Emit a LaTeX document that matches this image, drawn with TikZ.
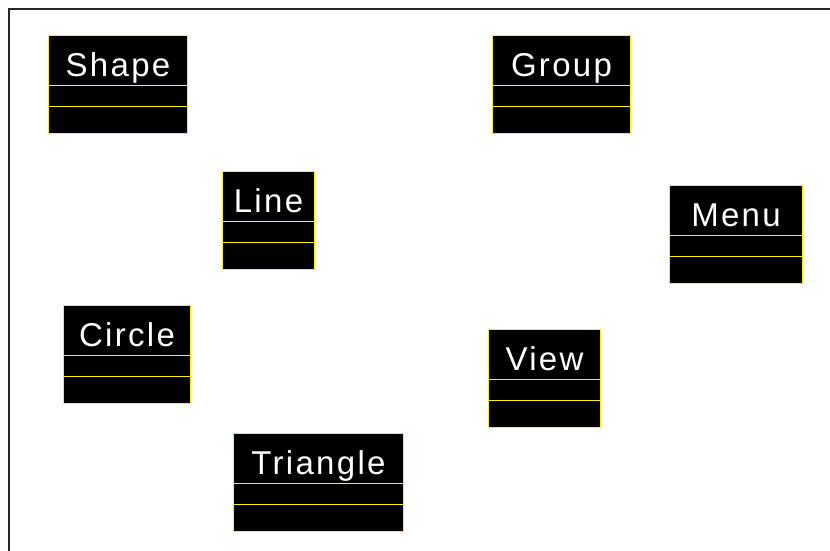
\documentclass[tikz,border=0pt]{standalone}
\usepackage{fontspec}
\newfontfamily\classfont[LetterSpace=7]{Liberation Sans}
\usetikzlibrary{shapes.multipart}
\tikzset{
  classbox/.style={rectangle split, rectangle split parts=3, draw=yellow, fill=black,
                   line width=1pt, inner sep=0pt, text=white, anchor=north west,
                   minimum width=#1, font=\classfont\fontsize{33}{33}\selectfont},
  frameline/.style={draw=black!85, line width=1.5pt},
}
\begin{document}
\begin{tikzpicture}[x=1pt, y=-1pt]
  \useasboundingbox (0,0) rectangle (830,550);
  \clip (0,0) rectangle (830,550);
  \draw[frameline] (9,560) |- (840,9);

  \node[classbox=139pt] (shape) at (48,35)
    {\rule[-9pt]{0pt}{49pt}Shape\nodepart{two}\rule{0pt}{20pt}\nodepart{three}\rule{0pt}{26pt}};
  \node[classbox=138pt] (group) at (492,35)
    {\rule[-9pt]{0pt}{49pt}Group\nodepart{two}\rule{0pt}{20pt}\nodepart{three}\rule{0pt}{26pt}};
  \node[classbox=92pt] (line) at (222,171)
    {\rule[-9pt]{0pt}{49pt}Line\nodepart{two}\rule{0pt}{20pt}\nodepart{three}\rule{0pt}{26pt}};
  \node[classbox=133pt] (menu) at (669,185)
    {\rule[-9pt]{0pt}{49pt}Menu\nodepart{two}\rule{0pt}{20pt}\nodepart{three}\rule{0pt}{26pt}};
  \node[classbox=127pt] (circle) at (63,305)
    {\rule[-9pt]{0pt}{49pt}Circle\nodepart{two}\rule{0pt}{20pt}\nodepart{three}\rule{0pt}{26pt}};
  \node[classbox=112pt] (view) at (488,329)
    {\rule[-9pt]{0pt}{49pt}View\nodepart{two}\rule{0pt}{20pt}\nodepart{three}\rule{0pt}{26pt}};
  \node[classbox=170pt] (triangle) at (233,433)
    {\rule[-9pt]{0pt}{49pt}Triangle\nodepart{two}\rule{0pt}{20pt}\nodepart{three}\rule{0pt}{26pt}};
\end{tikzpicture}
\end{document}
